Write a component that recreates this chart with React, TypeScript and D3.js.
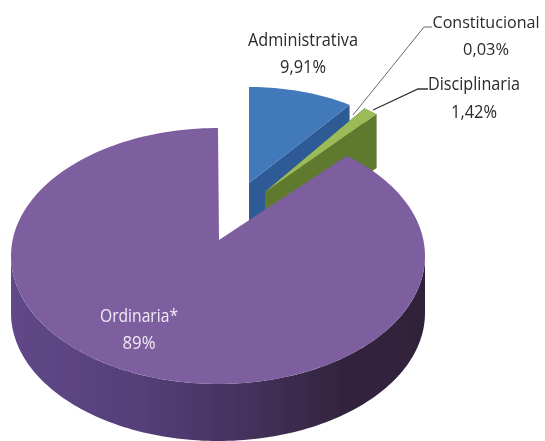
import * as d3 from 'd3';
import React from 'react';

const categories = ['Administrativa', 'Constitucional', 'Disciplinaria', 'Ordinaria*'];
const values = [9.91, 0.03, 1.42, 89];
const valueLabels = ['9,91%', '0,03%', '1,42%', '89%'];

const WIDTH = 545;
const HEIGHT = 441;
const DEPTH = 54;
const FONT = "'Open Sans', 'Liberation Sans', sans-serif";

// where every slice sits once exploded, and its size in the tilted view
const sliceLayout: any = {
  Administrativa: { cx: 249, cy: 183, rx: 173, ry: 96, top: '#4279bb', side: '#2f5a96' },
  Constitucional: { cx: 265, cy: 192, rx: 171, ry: 103, top: '#6f9a70', side: '#5f7a2e' },
  Disciplinaria: { cx: 265, cy: 192, rx: 171, ry: 103, top: '#9abb59', side: '#5f7a2e' },
  'Ordinaria*': { cx: 218, cy: 256, rx: 207, ry: 128, apexX: 219, apexY: 240, trim: -0.04, top: '#7d5f9f', side: 'url(#purpleSide)' },
};

// label boxes: anchor x centre, baselines and fitted widths
const labelLayout: any = {
  Administrativa: { x: 303, y: 46, vy: 73, w: 110, vw: 46, size: 18, fill: '#2a2a2a' },
  Constitucional: { x: 486, y: 28, vy: 55, w: 107, vw: 46, size: 17, fill: '#2a2a2a' },
  Disciplinaria: { x: 474, y: 90, vy: 118, w: 92, vw: 46, size: 18, fill: '#2a2a2a' },
  'Ordinaria*': { x: 139, y: 322, vy: 349, w: 78, vw: 33, size: 18, fill: '#efe9f5' },
};

const leaders = [
  { from: [432, 27], mid: [424, 27], to: [353, 115] },
  { from: [428, 89], mid: [418, 89], to: [373, 110] },
];

const pie = d3
  .pie<number>()
  .sort(null)
  .value((d) => d);

const line = d3.line();

const rim = (l: any, a: number, dy = 0): [number, number] => [
  l.cx + l.rx * Math.sin(a),
  l.cy - l.ry * Math.cos(a) + dy,
];

const arcPoints = (l: any, a0: number, a1: number, dy = 0) => {
  const n = Math.max(2, Math.ceil(Math.abs(a1 - a0) * 40));
  const angle = d3.scaleLinear().domain([0, n]).range([a0, a1]);
  return d3.range(n + 1).map((i) => rim(l, angle(i), dy));
};

const Slice = ({ arc, name }: any) => {
  const l = sliceLayout[name];
  const start = arc.startAngle + (l.trim || 0);
  const end = arc.endAngle;
  const apex: [number, number] = [l.apexX ?? l.cx, l.apexY ?? l.cy];
  const topPath = line([apex, ...arcPoints(l, start, end)]) + 'Z';

  let sidePath = '';
  if (end > Math.PI) {
    // outer wall: only the front half of the rim shows
    const front = [...arcPoints(l, Math.PI / 2, 1.5 * Math.PI), ...arcPoints(l, 1.5 * Math.PI, Math.PI / 2, DEPTH + 3)];
    sidePath = line(front) + 'Z';
  } else {
    // cut face along the slice end
    const corner = rim(l, end);
    const face = [apex, corner, [corner[0], corner[1] + DEPTH], [apex[0], apex[1] + DEPTH]] as [number, number][];
    sidePath = line(face) + 'Z';
  }

  return (
    <g>
      <path d={sidePath} fill={l.side} />
      <path d={topPath} fill={l.top} />
    </g>
  );
};

export default function App() {
  const arcs = pie(values);

  return (
    <svg
      width={WIDTH}
      height={HEIGHT}
      viewBox={`0 0 ${WIDTH} ${HEIGHT}`}
      style={{ position: 'absolute', left: 0, top: 0, background: '#fff' }}
    >
      <defs>
        <linearGradient id="purpleSide" x1="0" x2="1" y1="0" y2="0">
          <stop offset="0" stopColor="#604889" />
          <stop offset="0.3" stopColor="#55407a" />
          <stop offset="0.55" stopColor="#46335f" />
          <stop offset="0.8" stopColor="#33243f" />
          <stop offset="1" stopColor="#2f2239" />
        </linearGradient>
        <filter id="soft" x="-5%" y="-5%" width="110%" height="110%">
          <feGaussianBlur stdDeviation="0.5" />
        </filter>
      </defs>

      <g filter="url(#soft)">
        {arcs.map((a, i) => (
          <Slice key={categories[i]} arc={a} name={categories[i]} />
        ))}

        {leaders.map((d, i) => (
          <polyline
            key={i}
            points={[d.from, d.mid, d.to].map((p) => p.join(',')).join(' ')}
            fill="none"
            stroke={i === 0 ? '#666' : '#333'}
            strokeWidth={i === 0 ? 1 : 1.3}
          />
        ))}

        {categories.map((c, i) => {
          const t = labelLayout[c];
          return (
            <g key={c} fontFamily={FONT} fontSize={t.size} fontWeight={500} fill={t.fill} textAnchor="middle">
              <text x={t.x} y={t.y} textLength={t.w} lengthAdjust="spacingAndGlyphs">
                {c}
              </text>
              <text x={t.x} y={t.vy} textLength={t.vw} lengthAdjust="spacingAndGlyphs">
                {valueLabels[i]}
              </text>
            </g>
          );
        })}
      </g>
    </svg>
  );
}
